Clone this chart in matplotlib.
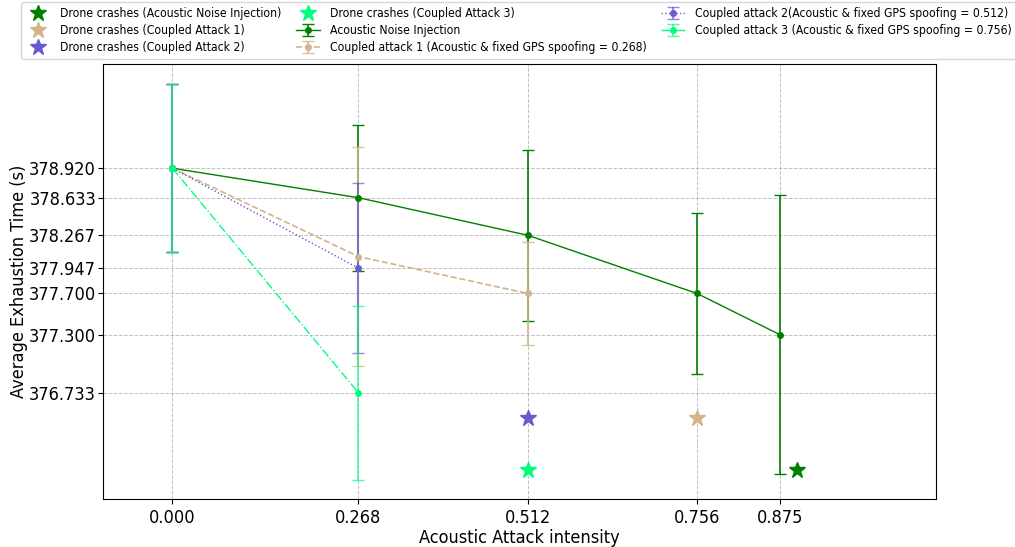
import numpy as np
import matplotlib.pyplot as plt

plt.rcParams['font.family'] = 'DejaVu Sans'
plt.rcParams['font.stretch'] = 'condensed'

# data
x_acoustic = [0.0, 0.268, 0.512, 0.756, 0.875]
y_acoustic = [378.920, 378.633, 378.267, 377.700, 377.300]
e_acoustic = [0.82, 0.71, 0.83, 0.785, 1.36]

x_c1 = [0.0, 0.268, 0.512]
y_c1 = [378.920, 378.06, 377.700]
e_c1 = [0.82, 1.07, 0.50]

x_c2 = [0.0, 0.268]
y_c2 = [378.920, 377.947]
e_c2 = [0.82, 0.83]

x_c3 = [0.0, 0.268]
y_c3 = [378.920, 376.733]
e_c3 = [0.82, 0.845]

crash_x = [0.90, 0.756, 0.512, 0.512]
crash_y = [375.98, 376.49, 376.49, 375.98]
crash_labels = ['Drone crashes (Acoustic Noise Injection)',
                'Drone crashes (Coupled Attack 1)',
                'Drone crashes (Coupled Attack 2)',
                'Drone crashes (Coupled Attack 3)']
crash_colors = ['green', 'tan', 'slateblue', 'springgreen']

xticks = [0.0, 0.268, 0.512, 0.756, 0.875]
yticks = [378.920, 378.633, 378.267, 377.947, 377.700, 377.300, 376.733]

fig = plt.figure(figsize=(10.15, 5.47), dpi=100)
ax = fig.add_axes([0.1015, 0.088, 0.8205, 0.795])

for cx, cy, lab, col in zip(crash_x, crash_y, crash_labels, crash_colors):
    ax.plot(cx, cy, '*', color=col, markersize=12, label=lab, linestyle='none')

ax.errorbar(x_acoustic, y_acoustic, yerr=e_acoustic, color='green', marker='o',
            markersize=4, linewidth=1, capsize=4, elinewidth=1.2,
            label='Acoustic Noise Injection')
ax.errorbar(x_c1, y_c1, yerr=e_c1, color='tan', marker='o', linestyle='--',
            markersize=4, linewidth=1.2, capsize=4, elinewidth=1.5, ecolor=(0.82, 0.71, 0.55, 0.8),
            label='Coupled attack 1 (Acoustic & fixed GPS spoofing = 0.268)')
ax.errorbar(x_c2, y_c2, yerr=e_c2, color='slateblue', marker='o', linestyle=':',
            markersize=4, linewidth=1, capsize=4, elinewidth=1.5, ecolor=(0.42, 0.35, 0.8, 0.7),
            label='Coupled attack 2(Acoustic & fixed GPS spoofing = 0.512)')
ax.errorbar(x_c3, y_c3, yerr=e_c3, color='springgreen', marker='o', linestyle='-.',
            markersize=4, linewidth=1, capsize=4, elinewidth=1.2, ecolor=(0.0, 1.0, 0.5, 0.7),
            label='Coupled attack 3 (Acoustic & fixed GPS spoofing = 0.756)')

ax.set_xlim(-0.1, 1.1)
ax.set_ylim(375.70, 379.935)
ax.set_xticks(xticks)
ax.set_xticklabels(['%.3f' % v for v in xticks], fontsize=13)
ax.set_yticks(yticks)
ax.set_yticklabels(['%.3f' % v for v in yticks], fontsize=13)
ax.tick_params(axis='y', pad=1.5)
ax.set_xlabel('Acoustic Attack intensity', fontsize=13, labelpad=2)
ax.set_ylabel('Average Exhaustion Time (s)', fontsize=13, labelpad=0.5)
ax.grid(True, linestyle='--', color='#b0b0b0', linewidth=0.7, alpha=0.8)

fig.legend(loc='upper center', bbox_to_anchor=(0.511, 1.0), ncol=3, fontsize=8.7,
           labelspacing=0.33, borderaxespad=0.2, columnspacing=1.2)

plt.savefig('out.png')
